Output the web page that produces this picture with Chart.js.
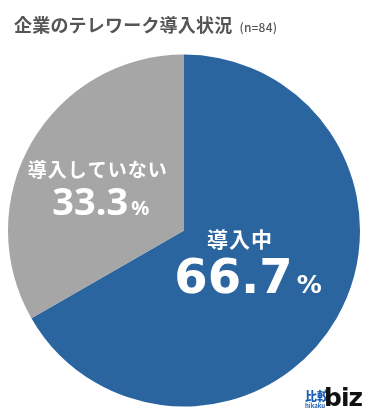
<!DOCTYPE html>
<html>
<head>
<meta charset="utf-8">
<script src="https://cdn.jsdelivr.net/npm/chart.js@4"></script>
<style>
  html, body { margin: 0; padding: 0; background: #fff; }
  #wrap { position: relative; width: 370px; height: 420px; }
  #title { position: absolute; left: 14px; top: 11px; font-family: "Noto Sans CJK JP", sans-serif;
           font-weight: 700; font-size: 18px; color: #555; white-space: nowrap; letter-spacing: 0.2px; }
  #title small { font-size: 12px; font-weight: 500; margin-left: 7px; }
  #logo { position: absolute; left: 304px; top: 386px; width: 60px; height: 28px; font-family: "Noto Sans CJK JP", sans-serif; }
  #logo .kanji { position: absolute; left: 1px; top: 4px; font-size: 12px; font-weight: 900; color: #1d5fb8; line-height: 12px; }
  #logo .roma { position: absolute; left: 1px; top: 17px; font-size: 6px; font-weight: 700; color: #1d5fb8; line-height: 6px; }
  #logo .biz { position: absolute; left: 20px; top: -2px; font-family: "DejaVu Sans", sans-serif; font-size: 25px;
               font-weight: 700; color: #111; line-height: 28px; letter-spacing: -1px; }
</style>
</head>
<body>
<div id="wrap">
  <canvas id="c" width="370" height="420"></canvas>
  <div id="title">企業のテレワーク導入状況<small>(n=84)</small></div>
  <div id="logo"><span class="kanji">比較</span><span class="roma">hikaku</span><span class="biz">biz</span></div>
</div>
<script>
var categories = ["導入中", "導入していない"];
var shares = [66.7, 33.3];
var sliceColors = ["#2b65a0", "#a6a6a6"];

// label placement per slice (relative to the slice's mid-angle point) and fonts
var labelStyle = [
  { dist: 0.42, nameDx: -8, nameDy: -21, numDx: 0, numDy: 25, name: 21, numFont: "700 48px 'DejaVu Sans', sans-serif", pctFont: "700 25px 'DejaVu Sans', sans-serif", pctGap: 4 },
  { dist: 0.50, nameDx: -10, nameDy: -9, numDx: -7, numDy: 29, name: 19, numFont: "700 38px 'Noto Sans', sans-serif", pctFont: "700 20px 'Noto Sans', sans-serif", pctGap: 3 }
];

var sliceLabels = {
  id: "sliceLabels",
  afterDatasetsDraw: function (chart) {
    var ctx = chart.ctx;
    var arcs = chart.getDatasetMeta(0).data;
    for (var i = 0; i < arcs.length; i++) {
      var a = arcs[i], st = labelStyle[i];
      var mid = (a.startAngle + a.endAngle) / 2;
      var r = a.outerRadius * st.dist;
      var x = a.x + Math.cos(mid) * r;
      var y = a.y + Math.sin(mid) * r;
      ctx.save();
      ctx.fillStyle = "#fff";
      ctx.textBaseline = "alphabetic";
      ctx.textAlign = "center";
      ctx.font = "700 " + st.name + "px 'Noto Sans CJK JP', sans-serif";
      ctx.letterSpacing = "1px";
      ctx.fillText(categories[i], x + st.nameDx, y + st.nameDy);
      ctx.letterSpacing = "0px";
      var numTxt = shares[i].toFixed(1);
      ctx.font = st.numFont;
      var wNum = ctx.measureText(numTxt).width;
      ctx.font = st.pctFont;
      var wPct = ctx.measureText("%").width;
      var left = x + st.numDx - (wNum + st.pctGap + wPct) / 2;
      ctx.textAlign = "left";
      ctx.font = st.numFont;
      ctx.fillText(numTxt, left, y + st.numDy);
      ctx.font = st.pctFont;
      ctx.fillText("%", left + wNum + st.pctGap, y + st.numDy);
      ctx.restore();
    }
  }
};

new Chart(document.getElementById("c"), {
  type: "pie",
  data: {
    labels: categories,
    datasets: [{ data: shares, backgroundColor: sliceColors, borderWidth: 0 }]
  },
  options: {
    responsive: false,
    animation: false,
    layout: { padding: { top: 54, bottom: 13, left: 8, right: 10 } },
    plugins: { legend: { display: false }, tooltip: { enabled: false }, title: { display: false } }
  },
  plugins: [sliceLabels]
});
</script>
</body>
</html>
